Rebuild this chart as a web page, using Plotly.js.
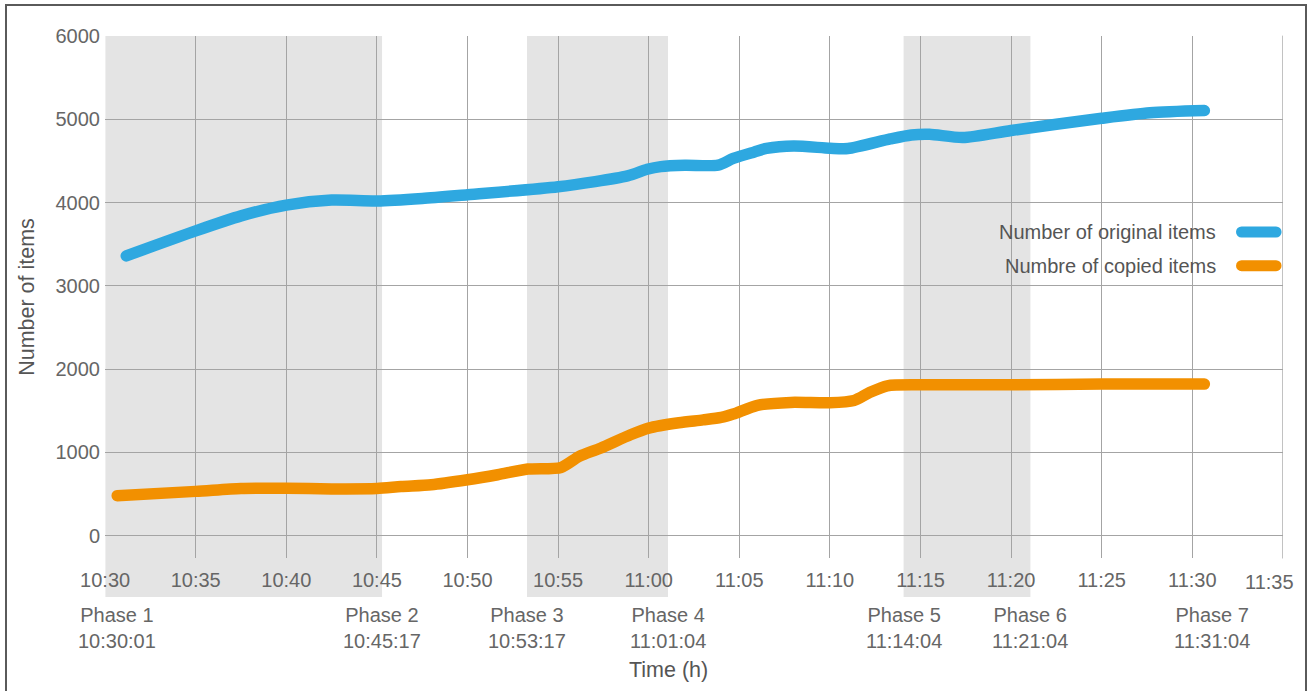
<!DOCTYPE html>
<html>
<head>
<meta charset="utf-8">
<script src="https://cdn.plot.ly/plotly-3.0.1.min.js"></script>
<style>
  html, body { margin: 0; padding: 0; background: #fff; overflow: hidden; }
  #wrap { position: relative; width: 1309px; height: 691px; }
  #chart { position: absolute; left: 0; top: 0; width: 1309px; height: 691px; }
  #frame { position: absolute; left: 5px; top: 4px; width: 1298px; height: 700px;
           border: 2px solid #5a5a5a; pointer-events: none; }
  .js-line { stroke-linecap: round !important; stroke-linejoin: round !important; }
  .shapelayer path { stroke-linecap: round !important; }
</style>
</head>
<body>
<div id="wrap">
  <div id="chart"></div>
  <div id="frame"></div>
</div>
<script>
// ---------------- data ----------------
const DAY = '2024-01-01 ';

const seriesNames = ['Number of original items', 'Numbre of copied items'];
const seriesColors = ['#2ea8e0', '#f29000'];

const timesOriginal = ['10:31:10', '10:35:00', '10:37:30', '10:40:00', '10:42:30', '10:45:00',
  '10:47:30', '10:50:00', '10:55:00', '10:58:50', '10:59:55', '11:00:40', '11:02:00', '11:03:50',
  '11:04:40', '11:05:50', '11:06:30', '11:08:00', '11:10:00', '11:11:00', '11:13:20', '11:14:30',
  '11:15:30', '11:17:20', '11:20:00', '11:25:00', '11:27:40', '11:30:40'];
const valuesOriginal = [3360, 3660, 3840, 3970, 4030, 4020,
  4050, 4095, 4190, 4320, 4400, 4432, 4448, 4450,
  4530, 4608, 4650, 4680, 4652, 4648, 4764, 4812,
  4820, 4780, 4865, 5012, 5078, 5104];

const timesCopied = ['10:30:40', '10:35:00', '10:37:30', '10:40:00', '10:42:30', '10:45:00',
  '10:46:20', '10:48:00', '10:50:00', '10:51:40', '10:53:20', '10:55:10', '10:56:10', '10:57:20',
  '10:59:00', '11:00:00', '11:01:40', '11:03:00', '11:04:00', '11:04:40', '11:06:00', '11:07:50',
  '11:10:00', '11:11:20', '11:12:10', '11:13:10', '11:15:00', '11:20:00', '11:25:00', '11:30:40'];
const valuesCopied = [480, 532, 568, 570, 562, 566,
  590, 612, 672, 732, 800, 820, 952, 1050,
  1212, 1292, 1356, 1390, 1420, 1460, 1565, 1600,
  1596, 1624, 1716, 1800, 1812, 1812, 1820, 1820];

const phaseNames = ['Phase 1', 'Phase 2', 'Phase 3', 'Phase 4', 'Phase 5', 'Phase 6', 'Phase 7'];
const phaseTimes = ['10:30:01', '10:45:17', '10:53:17', '11:01:04', '11:14:04', '11:21:04', '11:31:04'];
const shadedPhasePairs = [[0, 1], [2, 3], [4, 5]];

const xTickLabels = ['10:30', '10:35', '10:40', '10:45', '10:50', '10:55', '11:00',
  '11:05', '11:10', '11:15', '11:20', '11:25', '11:30', '11:35'];
const yTickValues = [0, 1000, 2000, 3000, 4000, 5000, 6000];
const xRange = ['10:29:59.6', '11:35:00.4'];
const yRange = [-268, 6000];

const xTitle = 'Time (h)';
const yTitle = 'Number of items';

// ---------------- chart ----------------
const FONT = '"Liberation Sans", Arial, Helvetica, sans-serif';
const TXT = '#666666';
const FS = 20;

const traces = [
  { x: timesOriginal.map(t => DAY + t), y: valuesOriginal, name: seriesNames[0] },
  { x: timesCopied.map(t => DAY + t), y: valuesCopied, name: seriesNames[1] }
].map((tr, i) => Object.assign(tr, {
  type: 'scatter', mode: 'lines',
  line: { color: seriesColors[i], width: 11.5, shape: 'spline', smoothing: 0.7 },
  hoverinfo: 'x+y+name', showlegend: false
}));

const shapes = [];
shadedPhasePairs.forEach(([a, b]) => {
  shapes.push({
    type: 'rect', layer: 'below', xref: 'x', yref: 'paper',
    x0: DAY + phaseTimes[a], x1: DAY + phaseTimes[b], y0: -0.0747, y1: 1,
    fillcolor: '#e4e4e4', line: { width: 0 }
  });
});
// right-edge grid line (last x tick)
const lastIdx = xTickLabels.length - 1;
const lastTick = DAY + xTickLabels[lastIdx] + ':00';
shapes.push({
  type: 'line', layer: 'below', xref: 'x', yref: 'paper',
  x0: lastTick, x1: lastTick, y0: 0, y1: 1,
  line: { color: '#a4a4a4', width: 1.1 }
});

const annotations = [];
phaseNames.forEach((p, i) => {
  annotations.push({
    xref: 'x', yref: 'paper', x: DAY + phaseTimes[i], y: 0,
    xanchor: 'center', yanchor: 'top', yshift: -44, xshift: i === 0 ? 12 : 0,
    text: p + '<br>' + phaseTimes[i], showarrow: false, align: 'center',
    font: { family: FONT, size: FS, color: TXT }
  });
});

// last x tick label: drawn nudged left so it stays inside the frame (as in the reference)
annotations.push({
  xref: 'x', yref: 'paper', x: lastTick, y: 0, xshift: -13, yshift: -24,
  xanchor: 'center', yanchor: 'middle', text: xTickLabels[lastIdx], showarrow: false,
  font: { family: FONT, size: FS, color: TXT }
});

// legend (text left, swatch right, as in the reference)
const legendY = [0.6245, 0.560];
seriesNames.forEach((n, i) => {
  annotations.push({
    xref: 'paper', yref: 'paper', x: 0.945, y: legendY[i],
    xanchor: 'right', yanchor: 'middle', text: n, showarrow: false,
    font: { family: FONT, size: FS, color: '#555555' }
  });
  shapes.push({
    type: 'line', layer: 'above', xref: 'paper', yref: 'paper',
    x0: 0.9648, x1: 0.9941, y0: legendY[i], y1: legendY[i],
    line: { color: seriesColors[i], width: 11 }
  });
});

annotations.push({
  xref: 'paper', yref: 'paper', x: 0.478, y: 0, yshift: -112,
  xanchor: 'center', yanchor: 'middle', text: xTitle, showarrow: false,
  font: { family: FONT, size: 21.5, color: '#555555' }
});

const layout = {
  width: 1309, height: 691,
  margin: { l: 105, r: 26, t: 36, b: 133, pad: 0 },
  paper_bgcolor: '#ffffff', plot_bgcolor: 'rgba(0,0,0,0)',
  font: { family: FONT, size: FS, color: TXT },
  showlegend: false,
  xaxis: {
    type: 'date', range: xRange.map(t => DAY + t),
    tickvals: xTickLabels.slice(0, lastIdx).map(t => DAY + t + ':00'),
    ticktext: xTickLabels.slice(0, lastIdx),
    showgrid: true, gridcolor: '#a4a4a4', gridwidth: 1.1,
    zeroline: false, showline: false, ticks: '', ticklabelstandoff: 8,
    tickfont: { family: FONT, size: FS, color: TXT }
  },
  yaxis: {
    range: yRange, tickvals: yTickValues,
    ticktext: yTickValues.map(String),
    showgrid: true, gridcolor: '#a4a4a4', gridwidth: 1.1,
    zeroline: false, showline: false, ticks: '', ticklabelstandoff: 4,
    tickfont: { family: FONT, size: FS, color: TXT },
    title: { text: yTitle, standoff: 14, font: { family: FONT, size: 21.5, color: '#555555' } }
  },
  shapes: shapes,
  annotations: annotations
};

Plotly.newPlot('chart', traces, layout, { displayModeBar: false, staticPlot: true });
</script>
</body>
</html>
